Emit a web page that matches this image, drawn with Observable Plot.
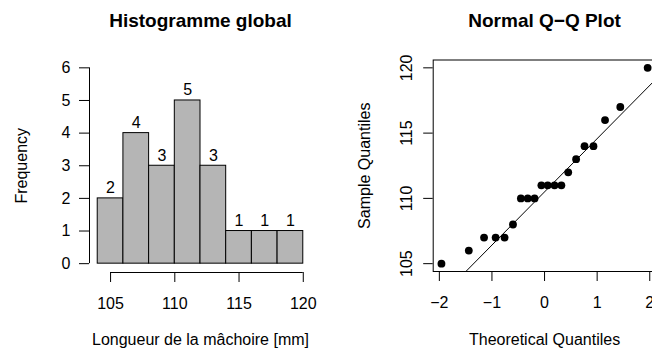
<!DOCTYPE html>
<html><head><meta charset="utf-8">
<script src="https://cdn.jsdelivr.net/npm/d3@7"></script>
<script src="https://cdn.jsdelivr.net/npm/@observablehq/plot@0.6"></script>
<style>
body{margin:0;background:#fff;color:#000;}
#wrap{width:652px;height:351px;overflow:hidden;display:flex;background:#fff;}
#wrap svg{flex:none;}
</style></head><body><div id="wrap"></div>
<script>
// ---- Histogram data ----
const histTitle = "Histogramme global";
const histXLabel = "Longueur de la mâchoire [mm]";
const histYLabel = "Frequency";
const breaks = [104, 106, 108, 110, 112, 114, 116, 118, 120];
const counts = [2, 4, 3, 5, 3, 1, 1, 1];
const histXTicks = [105, 110, 115, 120];
const histYTicks = [0, 1, 2, 3, 4, 5, 6];

// ---- Q-Q data ----
const qqTitle = "Normal Q\u2212Q Plot";
const qqXLabel = "Theoretical Quantiles";
const qqYLabel = "Sample Quantiles";
const sampleValues = [105, 106, 107, 107, 107, 108, 110, 110, 110, 111, 111, 111, 111, 112, 113, 114, 114, 116, 117, 120];
const theoreticalQuantiles = [-1.96, -1.44, -1.15, -0.93, -0.76, -0.60, -0.45, -0.32, -0.19, -0.06, 0.06, 0.19, 0.32, 0.45, 0.60, 0.76, 0.93, 1.15, 1.44, 1.96];
const qqXTicks = [-2, -1, 0, 1, 2];
const qqYTicks = [105, 110, 115, 120];

const font = "'Liberation Sans', Arial, Helvetica, sans-serif";
const ext = (lo, hi) => [lo - 0.04 * (hi - lo), hi + 0.04 * (hi - lo)];
const fmt = d => (d < 0 ? "\u2212" + Math.abs(d) : String(d));

// ---- Histogram ----
const bins = counts.map((c, i) => ({x1: breaks[i], x2: breaks[i + 1], count: c}));
const hx = ext(breaks[0], breaks[breaks.length - 1]);
const hy = ext(0, d3.max(histYTicks));

const hist = Plot.plot({
  width: 326, height: 351,
  marginTop: 59.5, marginBottom: 80, marginLeft: 89, marginRight: 15,
  style: {fontFamily: font, fontSize: "16px", background: "#fff", color: "#000", overflow: "visible"},
  x: {domain: hx, label: null},
  y: {domain: hy, label: null},
  marks: [
    Plot.rect(bins, {x1: "x1", x2: "x2", y1: 0, y2: "count", fill: "#b5b5b5", stroke: "#000", strokeWidth: 1}),
    Plot.text(bins, {x: d => (d.x1 + d.x2) / 2, y: "count", text: d => String(d.count), dy: -5, lineAnchor: "bottom", fontSize: 16}),
    Plot.ruleX([hx[0]], {y1: histYTicks[0], y2: histYTicks[histYTicks.length - 1], stroke: "#000"}),
    Plot.axisY({ticks: histYTicks, tickSize: 10, tickPadding: 9, tickFormat: fmt, label: null, fontSize: 16}),
    Plot.ruleY([hy[0]], {x1: histXTicks[0], x2: histXTicks[histXTicks.length - 1], stroke: "#000", dy: 1}),
    Plot.axisX({ticks: histXTicks, tickSize: 10, tickPadding: 15, tickFormat: fmt, label: null, fontSize: 16, dy: 1}),
    Plot.text([histTitle], {text: d => d, frameAnchor: "top", dy: -33.5, lineAnchor: "bottom", fontWeight: "bold", fontSize: 19}),
    Plot.text([histXLabel], {text: d => d, frameAnchor: "bottom", dy: 73, lineAnchor: "bottom", fontSize: 16}),
    Plot.text([histYLabel], {text: d => d, frameAnchor: "left", textAnchor: "middle", dx: -62.5, rotate: -90, lineAnchor: "bottom", fontSize: 16})
  ]
});

// ---- Q-Q plot ----
const pts = sampleValues.map((s, i) => ({x: theoreticalQuantiles[i], y: s}));
const qx = ext(d3.min(theoreticalQuantiles), d3.max(theoreticalQuantiles));
const qy = ext(d3.min(sampleValues), d3.max(sampleValues));
// qqline: through the first and third quartiles
const q1 = d3.quantile(sampleValues, 0.25), q3 = d3.quantile(sampleValues, 0.75);
const z = 0.6744898;
const slope = (q3 - q1) / (2 * z);
const intercept = q1 + z * slope;
const qqLine = [{x1: qx[0], y1: intercept + slope * qx[0], x2: qx[1], y2: intercept + slope * qx[1]}];

const qq = Plot.plot({
  width: 330, height: 351,
  marginTop: 59.5, marginBottom: 80, marginLeft: 106.7, marginRight: 0.6,
  style: {fontFamily: font, fontSize: "16px", background: "#fff", color: "#000"},
  x: {domain: qx, label: null},
  y: {domain: qy, label: null},
  marks: [
    Plot.link(qqLine, {x1: "x1", y1: "y1", x2: "x2", y2: "y2", stroke: "#000", strokeWidth: 1, clip: true}),
    Plot.dot(pts, {x: "x", y: "y", r: 3.9, fill: "#000", stroke: null}),
    Plot.frame({stroke: "#000"}),
    Plot.axisY({ticks: qqYTicks, tickSize: 9.5, tickFormat: () => "", label: null}),
    Plot.text(qqYTicks, {y: d => d, text: fmt, frameAnchor: "left", textAnchor: "middle", dx: -21.2, rotate: -90, lineAnchor: "bottom", fontSize: 16}),
    Plot.axisX({ticks: qqXTicks, tickSize: 10, tickPadding: 15, tickFormat: fmt, label: null, fontSize: 16}),
    Plot.text([qqTitle], {text: d => d, frameAnchor: "top", dy: -33.5, lineAnchor: "bottom", fontWeight: "bold", fontSize: 19}),
    Plot.text([qqXLabel], {text: d => d, frameAnchor: "bottom", dy: 73, lineAnchor: "bottom", fontSize: 16}),
    Plot.text([qqYLabel], {text: d => d, frameAnchor: "left", textAnchor: "middle", dx: -63.2, rotate: -90, lineAnchor: "bottom", fontSize: 16})
  ]
});

document.getElementById("wrap").append(hist, qq);
</script>
</body></html>
